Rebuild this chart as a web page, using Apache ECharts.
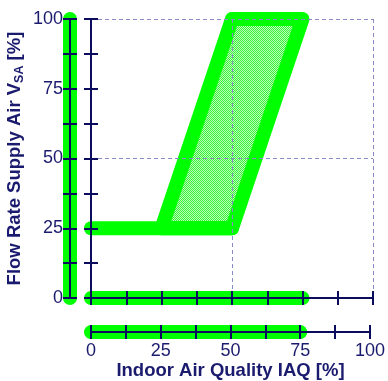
<!DOCTYPE html>
<html><head><meta charset="utf-8">
<script src="https://cdn.jsdelivr.net/npm/echarts@6/dist/echarts.min.js"></script>
<style>html,body{margin:0;padding:0;background:#fff}#c{width:388px;height:381px}</style>
</head><body><div id="c"></div>
<script>
// Data
const xTicks = [0, 25, 50, 75, 100];
const yTicks = [0, 25, 50, 75, 100];
const polygonIAQ = [25, 50, 75, 50];
const polygonVSA = [25, 100, 100, 25];
const baseLineIAQ = [0, 50];
const baseLineVSA = [25, 25];
const iaqRange = [0, 75];
const vsaRange = [0, 100];

const NAVY = '#0c0c5e';
const TXT = '#1a1a6e';
const GREEN = '#00ff00';

const pc = document.createElement('canvas');
pc.width = 2; pc.height = 2;
const pctx = pc.getContext('2d');
pctx.fillStyle = '#b8ffb8'; pctx.fillRect(0,0,2,2);
pctx.fillStyle = '#3cf03c'; pctx.fillRect(0,0,1,1); pctx.fillRect(1,1,1,1);

const lblFmt = v => (xTicks.indexOf(v) >= 0 ? String(v) : '');
const lblFmtY = v => (yTicks.indexOf(v) >= 0 ? String(v) : '');
const FONT = 'Liberation Sans, Arial, sans-serif';

function tickAxis(extra) {
  return Object.assign({
    type: 'value', min: 0, max: 100, interval: 12.5, z: 5,
    axisLine: { show: true, lineStyle: { color: NAVY, width: 2 } },
    axisTick: { show: true, length: 7, lineStyle: { color: NAVY, width: 2 } },
    axisLabel: { show: false },
    splitLine: { show: false }
  }, extra);
}
function inTick(extra) {
  return Object.assign({
    type: 'value', min: 0, max: 100, interval: 12.5, z: 5,
    axisLine: { show: false },
    axisTick: { show: true, inside: true, length: 7, lineStyle: { color: NAVY, width: 2 } },
    axisLabel: { show: false },
    splitLine: { show: false }
  }, extra);
}
function gridAxis(extra) {
  return Object.assign({
    type: 'value', min: 0, max: 100, interval: 50, z: 4,
    axisLine: { show: false }, axisTick: { show: false }, axisLabel: { show: false },
    splitLine: { show: true, lineStyle: { color: '#8a8ac8', type: [4, 3], width: 1 } }
  }, extra);
}
const hidden = (g) => ({ type: 'value', gridIndex: g, min: 0, max: 1, show: false });

const chart = echarts.init(document.getElementById('c'), null, { renderer: 'canvas' });
chart.setOption({
  animation: false,
  backgroundColor: '#fff',
  grid: [
    { left: 91, right: 15, top: 19, bottom: 83 },
    { left: 70, width: 10, top: 19, bottom: 83 },
    { left: 91, right: 15, top: 323, height: 10 }
  ],
  xAxis: [
    tickAxis({ gridIndex: 0, position: 'bottom' }),
    inTick({ gridIndex: 0, position: 'bottom' }),
    gridAxis({ gridIndex: 0, position: 'top' }),
    hidden(1),
    tickAxis({ gridIndex: 2, position: 'bottom',
      axisLabel: { show: true, formatter: lblFmt, color: TXT, fontSize: 18, fontFamily: FONT, margin: 10 },
      name: 'Indoor Air Quality IAQ [%]', nameLocation: 'middle', nameGap: 28,
      nameTextStyle: { color: TXT, fontSize: 18.5, fontWeight: 'bold', fontFamily: FONT } }),
    inTick({ gridIndex: 2, position: 'bottom' })
  ],
  yAxis: [
    tickAxis({ gridIndex: 0, position: 'left' }),
    inTick({ gridIndex: 0, position: 'left' }),
    gridAxis({ gridIndex: 0, position: 'right' }),
    tickAxis({ gridIndex: 1, position: 'left',
      axisLabel: { show: true, formatter: lblFmtY, color: TXT, fontSize: 18, fontFamily: FONT, margin: 7 },
      name: '{n|Flow Rate Supply Air V}{s|SA}{n| [%]}', nameLocation: 'middle', nameGap: 44,
      nameTextStyle: { rich: {
        n: { color: TXT, fontSize: 18.5, fontWeight: 'bold', fontFamily: FONT },
        s: { color: TXT, fontSize: 12.5, fontWeight: 'bold', fontFamily: FONT, padding: [9, 0, 0, 0] }
      } } }),
    inTick({ gridIndex: 1, position: 'left' }),
    hidden(2)
  ],
  series: [
    { type: 'custom', xAxisIndex: 0, yAxisIndex: 0, z: 2,
      renderItem: function (params, api) {
        const pts = polygonIAQ.map((x, i) => api.coord([x, polygonVSA[i]]));
        return { type: 'polygon', shape: { points: pts },
          style: { fill: { image: pc, repeat: 'repeat' }, stroke: GREEN, lineWidth: 14, lineJoin: 'round' } };
      },
      data: [[0, 0]] },
    { type: 'line', xAxisIndex: 0, yAxisIndex: 0, z: 2, symbol: 'none',
      lineStyle: { color: GREEN, width: 14, cap: 'round', join: 'round' },
      data: baseLineIAQ.map((x, i) => [x, baseLineVSA[i]]) },
    { type: 'line', xAxisIndex: 0, yAxisIndex: 0, z: 2, symbol: 'none',
      lineStyle: { color: GREEN, width: 14, cap: 'round' },
      data: iaqRange.map(x => [x, 0]) },
    { type: 'line', xAxisIndex: 3, yAxisIndex: 3, z: 2, symbol: 'none',
      lineStyle: { color: GREEN, width: 14, cap: 'round' },
      data: vsaRange.map(y => [0, y]) },
    { type: 'line', xAxisIndex: 4, yAxisIndex: 5, z: 2, symbol: 'none',
      lineStyle: { color: GREEN, width: 14, cap: 'round' },
      data: iaqRange.map(x => [x, 0]) }
  ]
});
</script></body></html>
